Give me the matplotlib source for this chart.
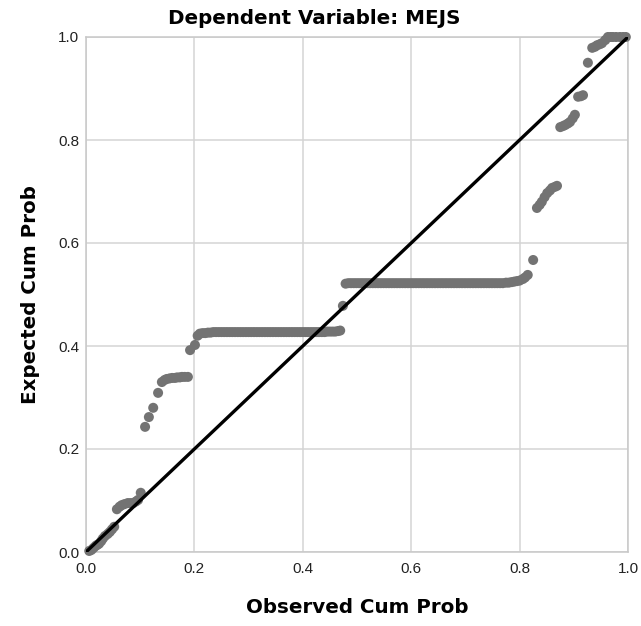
import matplotlib
matplotlib.use("Agg")
import matplotlib.pyplot as plt

# observed vs expected cumulative probabilities
obs_low = [0.006, 0.010, 0.014, 0.018, 0.021, 0.024, 0.028, 0.031, 0.035,
           0.040, 0.044, 0.048, 0.052,
           0.057, 0.062, 0.066, 0.071, 0.077, 0.082, 0.087, 0.092, 0.096,
           0.101]
exp_low = [0.002, 0.004, 0.008, 0.012, 0.014, 0.016, 0.021, 0.026, 0.031,
           0.035, 0.039, 0.044, 0.049,
           0.083, 0.088, 0.091, 0.093, 0.095, 0.095, 0.095, 0.098, 0.101,
           0.115]

obs_mid = [0.109, 0.116, 0.124, 0.133, 0.140, 0.145, 0.149, 0.154, 0.159,
           0.164, 0.168, 0.173, 0.177, 0.182, 0.188, 0.192, 0.201]
exp_mid = [0.243, 0.262, 0.280, 0.309, 0.330, 0.334, 0.336, 0.337, 0.338,
           0.338, 0.339, 0.339, 0.340, 0.340, 0.340, 0.392, 0.402]

# first flat run (expected ~0.427)
obs_flat1 = [0.206, 0.210, 0.215, 0.220, 0.225, 0.230, 0.235, 0.240,
             0.245, 0.250, 0.255, 0.260, 0.265, 0.270, 0.275, 0.280,
             0.285, 0.290, 0.295, 0.300, 0.305, 0.310, 0.315, 0.320,
             0.325, 0.330, 0.335, 0.340, 0.345, 0.350, 0.355, 0.360,
             0.365, 0.370, 0.375, 0.380, 0.385, 0.390, 0.395, 0.400,
             0.405, 0.410, 0.415, 0.420, 0.425, 0.430, 0.435, 0.440,
             0.445, 0.450, 0.455, 0.460, 0.465, 0.469]
exp_flat1 = [0.420, 0.424, 0.425, 0.425, 0.426, 0.426, 0.427, 0.427,
             0.427, 0.427, 0.427, 0.427, 0.427, 0.427, 0.427, 0.427,
             0.427, 0.427, 0.427, 0.427, 0.427, 0.427, 0.427, 0.427,
             0.427, 0.427, 0.427, 0.427, 0.427, 0.427, 0.427, 0.427,
             0.427, 0.427, 0.427, 0.427, 0.427, 0.427, 0.427, 0.427,
             0.427, 0.427, 0.427, 0.427, 0.427, 0.427, 0.427, 0.427,
             0.428, 0.428, 0.428, 0.428, 0.429, 0.430]

# second flat run (expected ~0.522)
obs_flat2 = [0.474, 0.479, 0.484, 0.489, 0.494, 0.499, 0.504, 0.509,
             0.514, 0.519, 0.524, 0.529, 0.534, 0.539, 0.544, 0.549,
             0.554, 0.559, 0.564, 0.569, 0.574, 0.579, 0.584, 0.589,
             0.594, 0.599, 0.604, 0.609, 0.614, 0.619, 0.624, 0.629,
             0.634, 0.639, 0.644, 0.649, 0.654, 0.659, 0.664, 0.669,
             0.674, 0.679, 0.684, 0.689, 0.694, 0.699, 0.704, 0.709,
             0.714, 0.719, 0.724, 0.729, 0.734, 0.739, 0.744, 0.749,
             0.754, 0.759, 0.764, 0.769, 0.775, 0.780, 0.785, 0.790,
             0.795, 0.800, 0.806, 0.810, 0.815, 0.825]
exp_flat2 = [0.478, 0.521, 0.522, 0.522, 0.522, 0.522, 0.522, 0.522,
             0.522, 0.522, 0.522, 0.522, 0.522, 0.522, 0.522, 0.522,
             0.522, 0.522, 0.522, 0.522, 0.522, 0.522, 0.522, 0.522,
             0.522, 0.522, 0.522, 0.522, 0.522, 0.522, 0.522, 0.522,
             0.522, 0.522, 0.522, 0.522, 0.522, 0.522, 0.522, 0.522,
             0.522, 0.522, 0.522, 0.522, 0.522, 0.522, 0.522, 0.522,
             0.522, 0.522, 0.522, 0.522, 0.522, 0.522, 0.522, 0.522,
             0.522, 0.522, 0.522, 0.522, 0.523, 0.523, 0.524, 0.525,
             0.526, 0.527, 0.530, 0.533, 0.538, 0.567]

obs_high = [0.832, 0.837, 0.841, 0.846, 0.851, 0.856, 0.860, 0.865, 0.869,
            0.875, 0.880, 0.884, 0.889, 0.893, 0.898, 0.902,
            0.908, 0.913, 0.917, 0.926, 0.934, 0.939, 0.943, 0.948, 0.952,
            0.958, 0.963, 0.968, 0.972, 0.978, 0.985, 0.991, 0.996]
exp_high = [0.668, 0.674, 0.680, 0.689, 0.697, 0.702, 0.707, 0.709, 0.711,
            0.825, 0.827, 0.829, 0.832, 0.835, 0.842, 0.849,
            0.884, 0.885, 0.887, 0.950, 0.979, 0.981, 0.984, 0.986, 0.988,
            0.994, 1.000, 1.000, 1.000, 1.000, 1.000, 1.000, 1.000]

obs = obs_low + obs_mid + obs_flat1 + obs_flat2 + obs_high
exp = exp_low + exp_mid + exp_flat1 + exp_flat2 + exp_high

ticks = [0.0, 0.2, 0.4, 0.6, 0.8, 1.0]
tick_labels = ["0.0", "0.2", "0.4", "0.6", "0.8", "1.0"]

plt.rcParams['font.family'] = ['Liberation Sans', 'DejaVu Sans']

fig = plt.figure(figsize=(6.41, 6.26), dpi=100)
ax = fig.add_axes([86/641, 1 - 552/626, 542/641, 515/626])

ax.scatter(obs, exp, s=52, color="#737373", edgecolors="none", zorder=3, clip_on=False)
ax.plot([0, 1], [0, 1], color="black", lw=2.4, zorder=4, solid_capstyle="round")

ax.set_xlim(0, 1)
ax.set_ylim(0, 1)
ax.set_xticks(ticks)
ax.set_xticklabels(tick_labels)
ax.set_yticks(ticks)
ax.set_yticklabels(tick_labels)
ax.tick_params(length=0, labelsize=11, colors="#222222")
ax.tick_params(axis="x", pad=7)
ax.tick_params(axis="y", pad=5)
ax.grid(True, color="#d4d4d4", lw=1.1)
ax.set_axisbelow(True)
for s in ax.spines.values():
    s.set_color("#c8c8c8")
    s.set_linewidth(1.1)

lab_font = dict(family="DejaVu Sans", fontsize=14.3, fontweight="bold")
# title sits centred on the whole figure, not on the axes
fig.text(0.491, 1 - 18/626, "Dependent Variable: MEJS", ha="center", va="center", **lab_font)
ax.set_xlabel("Observed Cum Prob", labelpad=16, **lab_font)
ax.set_ylabel("Expected Cum Prob", labelpad=13, **lab_font)

fig.savefig("out.png", dpi=100)
